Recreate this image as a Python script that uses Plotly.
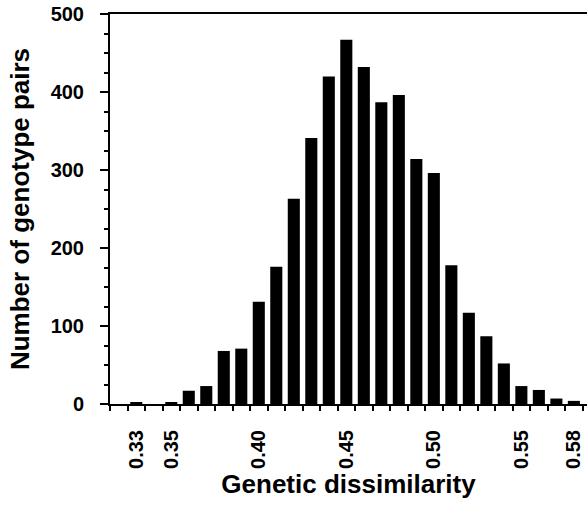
import plotly.graph_objects as go

dissimilarity = [0.33, 0.34, 0.35, 0.36, 0.37, 0.38, 0.39, 0.40, 0.41, 0.42, 0.43, 0.44, 0.45,
                 0.46, 0.47, 0.48, 0.49, 0.50, 0.51, 0.52, 0.53, 0.54, 0.55, 0.56, 0.57, 0.58]
pair_counts = [2, 0, 2, 17, 23, 68, 71, 131, 176, 263, 341, 420, 467,
               432, 387, 396, 314, 296, 178, 117, 87, 52, 23, 18, 7, 4]
x_tick_vals = [0.33, 0.35, 0.40, 0.45, 0.50, 0.55, 0.58]
x_tick_text = ["0.33", "0.35", "0.40", "0.45", "0.50", "0.55", "0.58"]
bin_edges = [round(0.315 + 0.01 * i, 3) for i in range(28)]
y_tick_vals = [0, 100, 200, 300, 400, 500]

FONT = "Liberation Sans, Arial, Helvetica, sans-serif"

fig = go.Figure(go.Bar(x=dissimilarity, y=pair_counts, marker=dict(color="black", line=dict(width=0)),
                       width=0.0069))

fig.update_layout(
    width=587, height=505,
    margin=dict(l=110, r=0, t=14, b=101, autoexpand=False),
    paper_bgcolor="white", plot_bgcolor="white",
    showlegend=False,
    font=dict(family=FONT, color="black"),
)

fig.update_xaxes(
    range=[0.315, 0.5875], showgrid=False, zeroline=False, automargin=False,
    showline=True, linecolor="black", linewidth=2, mirror=True,
    tickmode="array", tickvals=x_tick_vals, ticktext=x_tick_text,
    tickangle=-90, ticks="outside", ticklen=16, tickcolor="rgba(0,0,0,0)",
    tickfont=dict(family=FONT, size=20, weight="bold", color="black"),
    minor=dict(tickmode="array", tickvals=bin_edges, ticks="outside", ticklen=5,
               tickwidth=1.5, tickcolor="black", showgrid=False),
    title=dict(text="Genetic dissimilarity", standoff=5,
               font=dict(family=FONT, size=26, weight="bold", color="black")),
)

fig.update_yaxes(
    range=[0, 500], showgrid=False, zeroline=False, automargin=False,
    showline=True, linecolor="black", linewidth=2,
    tickmode="array", tickvals=y_tick_vals,
    ticks="outside", ticklen=8, tickwidth=1.5, tickcolor="black",
    ticklabelstandoff=12,
    tickfont=dict(family=FONT, size=20, weight="bold", color="black"),
    minor=dict(dtick=25, tick0=0, ticks="outside", ticklen=4, tickwidth=1.5,
               tickcolor="black", showgrid=False),
    title=dict(text="Number of genotype pairs", standoff=14,
               font=dict(family=FONT, size=26, weight="bold", color="black")),
)

fig.write_html("out.html", config={"displayModeBar": False},
               post_script="document.body.style.margin='0';document.body.style.overflow='hidden';")
